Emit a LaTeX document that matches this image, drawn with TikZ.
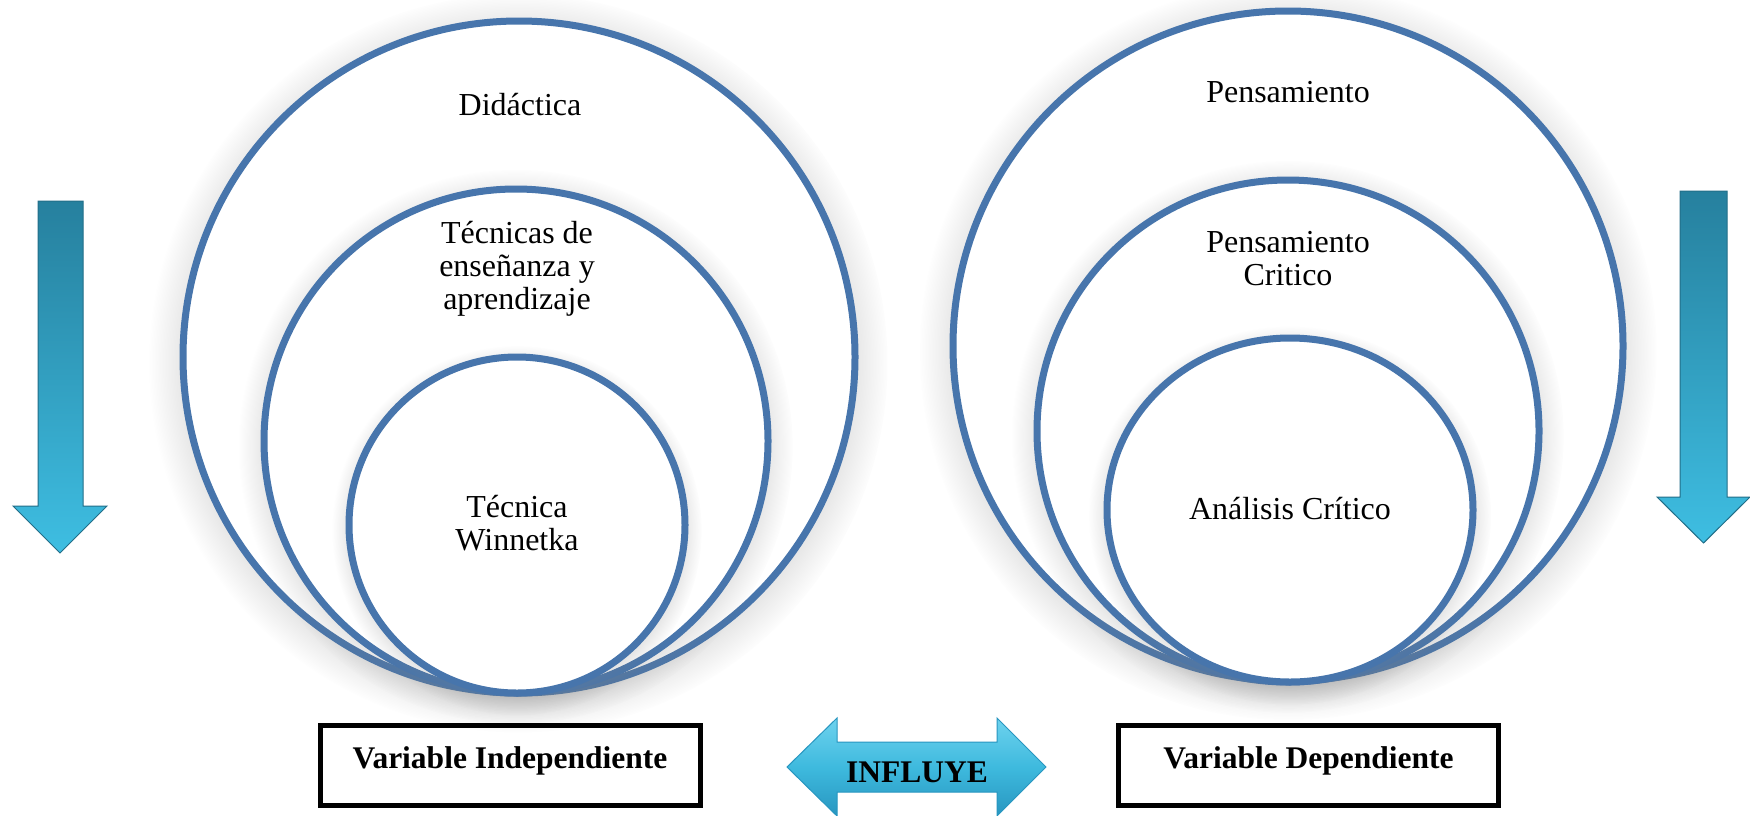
\documentclass[tikz,border=0pt]{standalone}
\usepackage{fontspec}
\setmainfont{Liberation Serif}
\usetikzlibrary{shapes.geometric,shadows}
\definecolor{circblue}{RGB}{71,117,172}
\definecolor{tealtop}{RGB}{38,128,158}
\definecolor{tealbot}{RGB}{62,190,226}
\definecolor{tealedge}{RGB}{34,110,136}
\definecolor{cyantop}{RGB}{110,210,238}
\definecolor{cyanmid}{RGB}{62,186,222}
\definecolor{cyanbot}{RGB}{40,150,192}
\begin{document}
\begin{tikzpicture}[x=1pt,y=-1pt,
  ring/.style={circle, draw=circblue, line width=7pt, fill=white, inner sep=0pt,
    circular drop shadow={shadow xshift=0pt, shadow yshift=-5pt, opacity=0.3}},
  lbl/.style={font=\fontsize{32}{33}\selectfont, align=center, anchor=base, inner sep=0pt},
  varbox/.style={draw=black, line width=5pt, minimum width=380pt, minimum height=80pt,
    inner sep=0pt, text height=22pt, text depth=16pt,
    font=\fontsize{31.5}{36}\selectfont\bfseries},
  downarr/.style={top color=tealtop, bottom color=tealbot, draw=tealedge, line width=1pt},
  dblarr/.style={top color=cyantop, bottom color=cyanbot, middle color=cyanmid, draw=cyanbot, line width=1pt}
]
\useasboundingbox (0,0) rectangle (1750,815);
\fill[white] (0,0) rectangle (1750,815);

% left circles
\node[ring, minimum size=672pt] (didactica) at (519,357) {};
\node[ring, minimum size=504pt] (tecnicas) at (516,441) {};
\node[ring, minimum size=336pt] (winnetka) at (517,525) {};
% right circles
\node[ring, minimum size=670pt] (pensamiento) at (1288,346) {};
\node[ring, minimum size=502pt] (pcritico) at (1288,431) {};
\node[ring, ellipse, minimum width=366pt, minimum height=344pt] (acritico) at (1290,510) {};

% labels (base anchor = baseline of the last line)
\node[lbl] (tdid) at (520,115) {Didáctica};
\node[lbl] (ttec) at (517,309) {Técnicas de\\enseñanza y\\aprendizaje};
\node[lbl] (twin) at (517,550) {Técnica\\Winnetka};
\node[lbl] (tpen) at (1288,102) {Pensamiento};
\node[lbl] (tpcr) at (1288,285) {Pensamiento\\Critico};
\node[lbl] (tacr) at (1290,519) {Análisis Crítico};

% down arrows
\path[downarr] (38,201) -- (83,201) -- (83,506) -- (107,506) -- (60,553) -- (13,506) -- (38,506) -- cycle;
\path[downarr] (1680,191) -- (1727,191) -- (1727,497) -- (1750,497) -- (1703.5,543) -- (1657,497) -- (1680,497) -- cycle;

% boxes
\node[varbox] (vind) at (510,765) {Variable Independiente};
\node[varbox] (vdep) at (1308.5,765) {Variable Dependiente};

% influye arrow
\path[dblarr] (787,767) -- (837,718) -- (837,742) -- (997,742) -- (997,718) -- (1046,767)
  -- (997,816) -- (997,792) -- (837,792) -- (837,816) -- cycle;
\node[font=\fontsize{31.5}{36}\selectfont\bfseries, anchor=base, inner sep=0pt] (influye) at (917,782) {INFLUYE};
\end{tikzpicture}
\end{document}
